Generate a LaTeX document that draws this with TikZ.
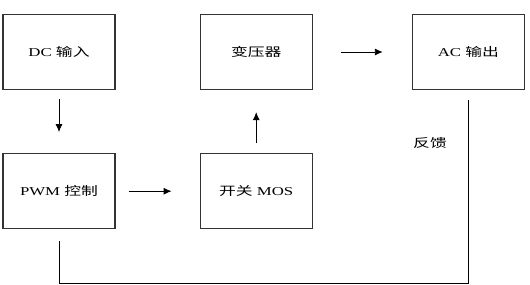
\documentclass[tikz,border=0pt]{standalone}
\usepackage{fontspec}
\setmainfont{Liberation Serif}[FakeStretch=1.4]
\newfontfamily\cjk{Noto Sans CJK SC}[FakeStretch=1.4]
\usetikzlibrary{arrows.meta,positioning}
\definecolor{boxgray}{RGB}{51,51,51}
\tikzset{
  block/.style={
    rectangle, draw=boxgray, line width=1.2pt,
    minimum width=112pt, minimum height=75pt,
    inner sep=2pt, align=center,
    font=\fontsize{12}{14}\selectfont
  },
  flow arrow/.style={-{Latex[length=8pt,width=7pt]}, line width=0.9pt},
  feedback line/.style={line width=0.9pt}
}

\begin{document}
\begin{tikzpicture}[node distance=63pt and 84pt]
    \useasboundingbox (0,0) rectangle (530pt,-284pt);
    \node[block] (dcin) at (59pt,-52pt) {DC {\cjk 输入}};
    \node[block, below=of dcin] (pwm) {PWM {\cjk 控制}};
    \node[block, right=of dcin] (trafo) {{\cjk 变压器}};
    \node[block, below=of trafo] (mosfet) {{\cjk 开关} MOS};
    \node[block, right=99pt of trafo] (acout) {AC {\cjk 输出}};
    \node[font=\fontsize{12}{14}\selectfont\cjk] (fbk) at (430pt,-143pt) {反馈};
    \draw[flow arrow, shorten <=9pt, shorten >=21pt] (dcin) -- (pwm);
    \draw[flow arrow, shorten <=13pt, shorten >=28pt] (pwm) -- (mosfet);
    \draw[flow arrow, shorten <=10pt, shorten >=22pt] (mosfet) -- (trafo);
    \draw[flow arrow, shorten <=28pt, shorten >=29pt] (trafo) -- (acout);
    \draw[feedback line, shorten <=12pt, shorten >=10pt] (pwm.south) -- ++(0,-54pt) -| (acout.south);
  \end{tikzpicture}
\end{document}
